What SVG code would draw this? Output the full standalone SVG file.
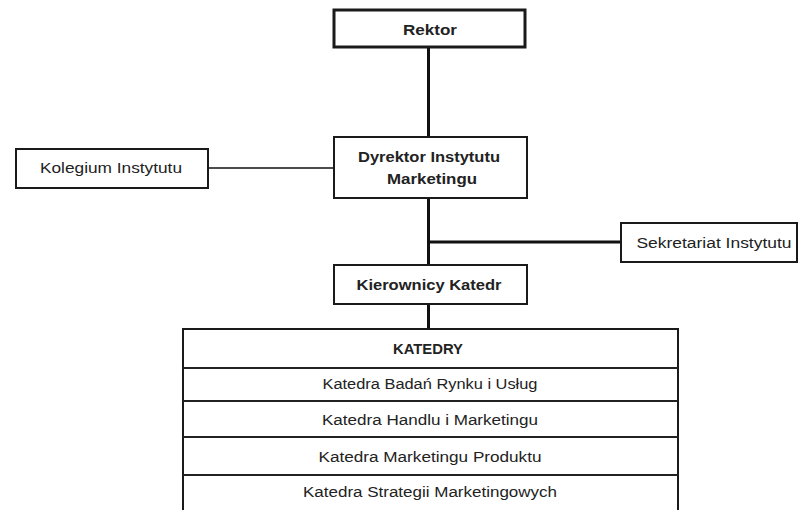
<svg xmlns="http://www.w3.org/2000/svg" width="801" height="510" viewBox="0 0 801 510">
<style>
.box{fill:#fff;stroke:#1a1a1a;stroke-width:2}
.thick{stroke-width:3}
.t{font-family:"Liberation Sans",Arial,sans-serif;font-size:14px;fill:#222;text-anchor:middle}
.b{font-weight:bold}
.c{stroke:#111;fill:none}
.row{stroke:#222;stroke-width:2}
</style>
<rect width="801" height="510" fill="#fff"/>
<g id="connectors">
<line class="c" x1="428.5" y1="47" x2="428.5" y2="137" stroke-width="3"/>
<line class="c" x1="208" y1="168" x2="334" y2="168" stroke-width="1.5"/>
<line class="c" x1="428.5" y1="198" x2="428.5" y2="265" stroke-width="3"/>
<line class="c" x1="428.5" y1="242" x2="621" y2="242" stroke-width="3"/>
<line class="c" x1="428.5" y1="304" x2="428.5" y2="329" stroke-width="3"/>
</g>
<g id="rektor">
<rect class="box thick" x="334" y="10" width="191" height="37"/>
<text class="t b" x="430" y="35" textLength="54" lengthAdjust="spacingAndGlyphs">Rektor</text>
</g>
<g id="dyrektor">
<rect class="box" x="334" y="137" width="193" height="61"/>
<text class="t b" x="429" y="162" textLength="142" lengthAdjust="spacingAndGlyphs">Dyrektor Instytutu</text>
<text class="t b" x="432" y="184" textLength="90" lengthAdjust="spacingAndGlyphs">Marketingu</text>
</g>
<g id="kolegium">
<rect class="box" x="16" y="149" width="192" height="39"/>
<text class="t" x="111" y="173" textLength="142" lengthAdjust="spacingAndGlyphs">Kolegium Instytutu</text>
</g>
<g id="sekretariat">
<rect class="box" x="621" y="223" width="176" height="39"/>
<text class="t" x="714" y="248" textLength="155" lengthAdjust="spacingAndGlyphs">Sekretariat Instytutu</text>
</g>
<g id="kierownicy">
<rect class="box" x="334" y="265" width="193" height="39"/>
<text class="t b" x="429" y="290" textLength="145" lengthAdjust="spacingAndGlyphs">Kierownicy Katedr</text>
</g>
<g id="katedry">
<rect class="box" x="183" y="329" width="495" height="183"/>
<line class="row" x1="183" y1="368" x2="678" y2="368"/>
<line class="row" x1="183" y1="401" x2="678" y2="401"/>
<line class="row" x1="183" y1="437" x2="678" y2="437"/>
<line class="row" x1="183" y1="475" x2="678" y2="475"/>
<text class="t b" x="428" y="354" textLength="70" lengthAdjust="spacingAndGlyphs">KATEDRY</text>
<text class="t" x="430" y="389" textLength="215" lengthAdjust="spacingAndGlyphs">Katedra Badań Rynku i Usług</text>
<text class="t" x="430" y="425" textLength="216" lengthAdjust="spacingAndGlyphs">Katedra Handlu i Marketingu</text>
<text class="t" x="430" y="462" textLength="223" lengthAdjust="spacingAndGlyphs">Katedra Marketingu Produktu</text>
<text class="t" x="430" y="497" textLength="254" lengthAdjust="spacingAndGlyphs">Katedra Strategii Marketingowych</text>
</g>
</svg>
